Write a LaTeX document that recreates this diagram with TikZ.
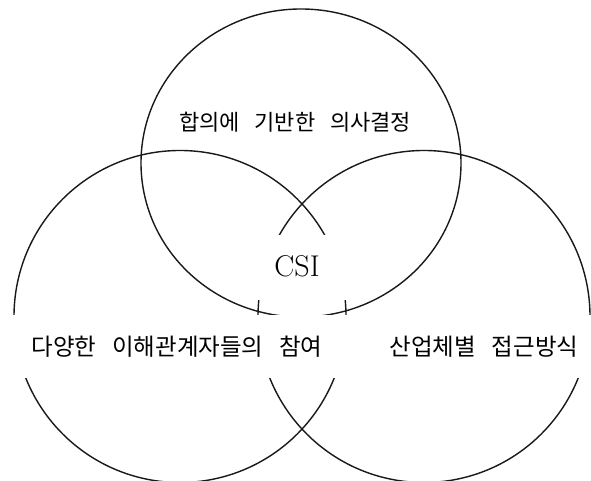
\documentclass[tikz,border=0pt]{standalone}
\usepackage{fontspec}
\newfontfamily\kr[WordSpace=3]{Noto Sans CJK KR}
\begin{document}
\begin{tikzpicture}[x=1pt,y=1pt,
  ring/.style={draw=black!90,line width=1.4pt},
  krlabel/.style={font=\kr\fontsize{23.5}{26}\selectfont,inner sep=0pt},
  cover/.style={fill=white,inner sep=0pt},
  csilabel/.style={font=\fontsize{30}{34}\selectfont}]
\useasboundingbox[fill=white] (0,0) rectangle (591,481);
% circles
\draw[ring] (301,318) ellipse [x radius=160, y radius=154];
\draw[ring] (180,164.5) circle [radius=166];
\draw[ring] (424,164.5) circle [radius=166];
% labels
\node[krlabel,font=\kr\fontsize{22}{25}\selectfont] (top) at (295,359) {합의에 기반한 의사결정};
\node[krlabel,cover,minimum width=105pt,minimum height=65pt] (csi) at (302,213.5) {};
\node[csilabel] (csitext) at (297,215) {CSI};
\node[krlabel,cover,minimum width=340pt,minimum height=63pt] (left) at (177,134) {다양한 이해관계자들의 참여};
\node[krlabel,cover,minimum width=214pt,minimum height=63pt] (right) at (484,134) {산업체별 접근방식};
\end{tikzpicture}
\end{document}
